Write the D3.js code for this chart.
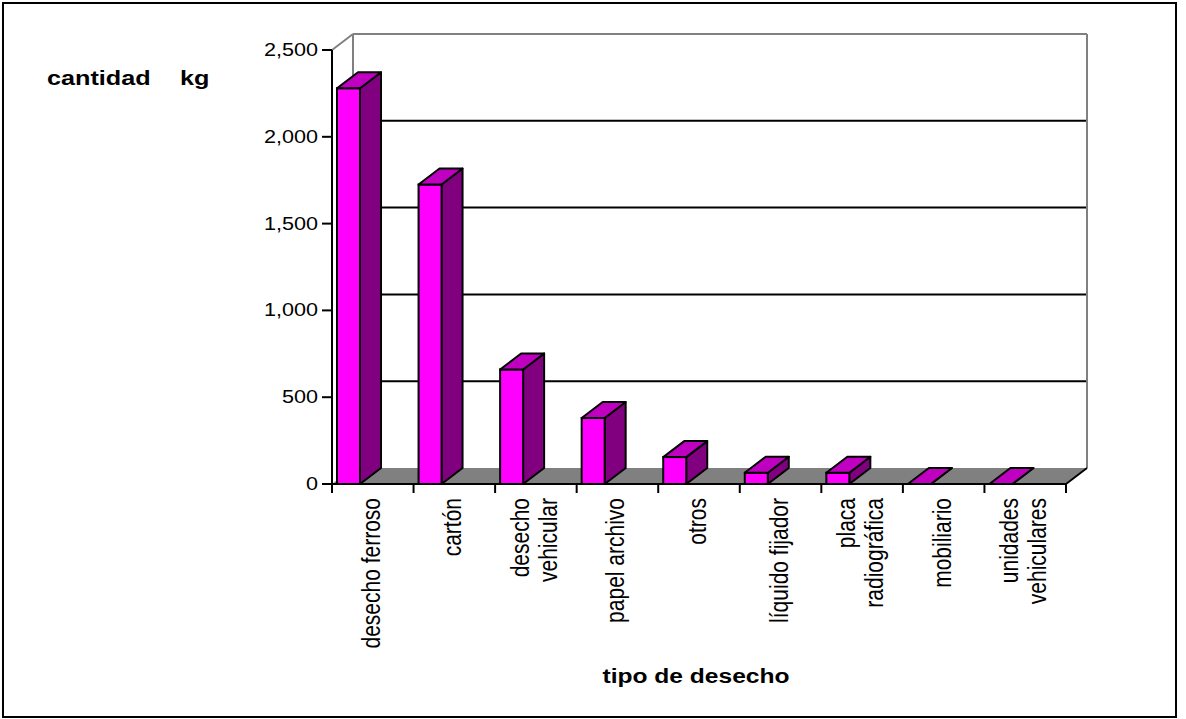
<!DOCTYPE html>
<html>
<head>
<meta charset="utf-8">
<script src="https://cdn.jsdelivr.net/npm/d3@7"></script>
<style>
  html, body { margin: 0; padding: 0; background: #fff; }
  svg { display: block; font-family: Arial, "Liberation Sans", sans-serif; }
</style>
</head>
<body>
<svg id="chart" width="1186" height="719"></svg>
<script>
const categories = [
  ["desecho ferroso"],
  ["cartón"],
  ["desecho", "vehicular"],
  ["papel archivo"],
  ["otros"],
  ["líquido fijador"],
  ["placa", "radiográfica"],
  ["mobiliario"],
  ["unidades", "vehiculares"]
];
const values = [2280, 1725, 660, 380, 155, 65, 65, 0, 0];
const yTicks = [0, 500, 1000, 1500, 2000, 2500];
const yTitle = ["cantidad", "kg"];
const xTitle = "tipo de desecho";

const svg = d3.select("#chart");
const SX = 1.2; // horizontal stretch of text in reference

// geometry
const x0 = 332, x1 = 1066, yBottom = 484, yTop = 50;
const dx = 21, dy = -16;

const y = d3.scaleLinear().domain([0, 2500]).range([yBottom, yTop]);
const x = d3.scaleBand().domain(d3.range(categories.length)).range([x0, x1]).paddingInner(0).paddingOuter(0);

// outer frame
svg.append("rect").attr("x", 3).attr("y", 3).attr("width", 1173).attr("height", 714)
  .attr("fill", "none").attr("stroke", "#000").attr("stroke-width", 2);

// back wall gridlines
svg.selectAll("line.grid").data(yTicks.filter(t => t > 0 && t < 2500)).join("line")
  .attr("class", "grid")
  .attr("x1", x0 + dx).attr("x2", x1 + dx)
  .attr("y1", d => y(d) + dy).attr("y2", d => y(d) + dy)
  .attr("stroke", "#000").attr("stroke-width", 2);

// wall edges (gray)
const gray = "#808080";
svg.append("line").attr("x1", x0 + dx).attr("x2", x1 + dx).attr("y1", y(2500) + dy).attr("y2", y(2500) + dy)
  .attr("stroke", gray).attr("stroke-width", 2);
svg.append("line").attr("x1", x0 + dx).attr("x2", x0 + dx).attr("y1", y(2500) + dy).attr("y2", y(0) + dy)
  .attr("stroke", gray).attr("stroke-width", 2);
svg.append("line").attr("x1", x1 + dx).attr("x2", x1 + dx).attr("y1", y(2500) + dy).attr("y2", y(0) + dy)
  .attr("stroke", gray).attr("stroke-width", 2);
svg.append("line").attr("x1", x0).attr("x2", x0 + dx).attr("y1", y(2500)).attr("y2", y(2500) + dy)
  .attr("stroke", gray).attr("stroke-width", 2);

// floor
svg.append("polygon")
  .attr("points", [[x0, y(0)], [x1, y(0)], [x1 + dx, y(0) + dy], [x0 + dx, y(0) + dy]].map(p => p.join(",")).join(" "))
  .attr("fill", gray);
svg.append("line").attr("x1", x1).attr("x2", x1 + dx).attr("y1", y(0)).attr("y2", y(0) + dy)
  .attr("stroke", "#000").attr("stroke-width", 2);

// bars
const barOff = 5, barW = 23;
const bars = svg.append("g");
values.forEach((v, i) => {
  const bx0 = x(i) + barOff, bx1 = bx0 + barW, by = y(v), b0 = y(0);
  const g = bars.append("g");
  g.append("polygon")
    .attr("points", [[bx1, by], [bx1 + dx, by + dy], [bx1 + dx, b0 + dy], [bx1, b0]].map(p => p.join(",")).join(" "))
    .attr("fill", "#800080").attr("stroke", "#000").attr("stroke-width", 2).attr("stroke-linejoin", "round");
  g.append("rect").attr("x", bx0).attr("y", by).attr("width", barW).attr("height", b0 - by)
    .attr("fill", "#FF00FF").attr("stroke", "#000").attr("stroke-width", 2);
  g.append("polygon")
    .attr("points", [[bx0, by], [bx0 + dx, by + dy], [bx1 + dx, by + dy], [bx1, by]].map(p => p.join(",")).join(" "))
    .attr("fill", "#C000C0").attr("stroke", "#000").attr("stroke-width", 2).attr("stroke-linejoin", "round");
});

// axes lines
svg.append("line").attr("x1", x0).attr("x2", x0).attr("y1", y(2500)).attr("y2", y(0))
  .attr("stroke", "#000").attr("stroke-width", 2);
svg.append("line").attr("x1", x0).attr("x2", x1).attr("y1", y(0)).attr("y2", y(0))
  .attr("stroke", "#000").attr("stroke-width", 2);

// y ticks + labels
const fmt = d3.format(",");
yTicks.forEach(t => {
  svg.append("line").attr("x1", x0 - 10).attr("x2", x0).attr("y1", y(t)).attr("y2", y(t))
    .attr("stroke", "#000").attr("stroke-width", 2);
  svg.append("text")
    .attr("transform", `translate(${x0 - 14},${y(t) + 6}) scale(${SX},1)`)
    .attr("text-anchor", "end").attr("font-size", 18).attr("fill", "#000")
    .text(fmt(t));
});

// x ticks
const bounds = categories.map((c, i) => x(i)).concat([x1]);
bounds.forEach(bx => {
  svg.append("line").attr("x1", bx).attr("x2", bx).attr("y1", y(0)).attr("y2", y(0) + 9)
    .attr("stroke", "#000").attr("stroke-width", 2);
});

// x labels (rotated)
const lineSp = 28;
categories.forEach((lines, i) => {
  const cx = x(i) + x.bandwidth() / 2;
  const n = lines.length;
  lines.forEach((ln, j) => {
    const bx = cx + 7 + (j - (n - 1) / 2) * lineSp;
    svg.append("text")
      .attr("transform", `translate(${bx},498) scale(${SX},1) rotate(-90)`)
      .attr("text-anchor", "end").attr("font-size", 21).attr("fill", "#000")
      .text(ln);
  });
});

// titles
svg.append("text").attr("transform", `translate(47,85) scale(${SX},1)`)
  .attr("font-size", 21).attr("font-weight", "bold").text(yTitle[0]);
svg.append("text").attr("transform", `translate(180,85) scale(${SX},1)`)
  .attr("font-size", 21).attr("font-weight", "bold").text(yTitle[1]);
svg.append("text").attr("transform", `translate(696,683) scale(${SX},1)`)
  .attr("text-anchor", "middle").attr("font-size", 20.5).attr("font-weight", "bold").text(xTitle);
</script>
</body>
</html>
